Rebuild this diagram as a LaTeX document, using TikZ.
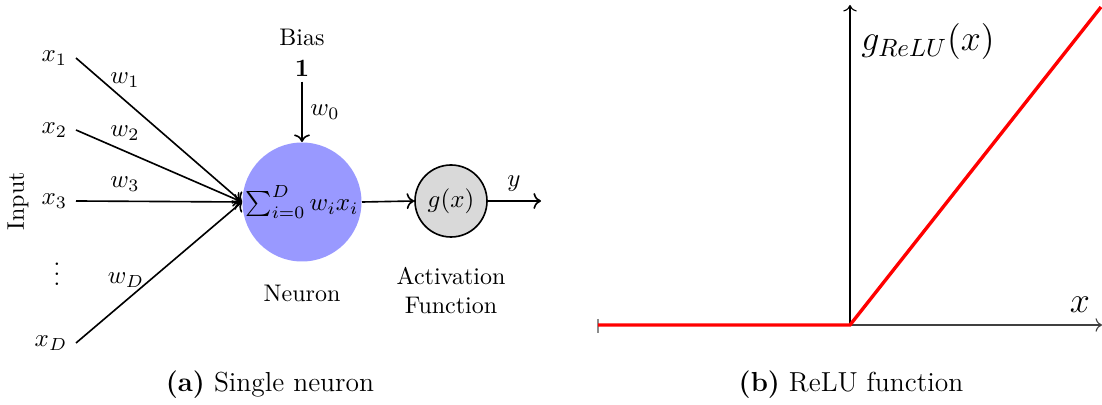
\documentclass[tikz,border=0pt]{standalone}
\usepackage{amsmath}
\usetikzlibrary{arrows.meta}
\begin{document}
\begin{tikzpicture}[x=0.4pt,y=-0.4pt,
  txt/.style={font=\fontsize{9.6}{11.6}\selectfont},
  captxt/.style={font=\fontsize{11}{13}\selectfont},
  plotlbl/.style={font=\fontsize{14}{16}\selectfont},
  inp/.style={txt,anchor=east},
  wire/.style={line width=0.65pt,->},
  neuron/.style={circle,fill=blue!40,minimum size=119*0.4pt,inner sep=0pt,txt},
  actbox/.style={circle,draw,line width=0.65pt,fill=black!15,minimum size=72*0.4pt,inner sep=0pt,txt},
  axis/.style={line width=0.45pt,->},
  relu/.style={red,line width=1.35pt}]
\useasboundingbox (0,0) rectangle (1102,405);

% ---- single neuron ----
\node[neuron] (n) at (302,202) {$\sum_{i=0}^{D} w_i x_i$};
\node[actbox] (g) at (451,201) {$g(x)$};

\node[inp] (x1) at (76,58) {$x_1$};
\node[inp] (x2) at (76,130) {$x_2$};
\node[inp] (x3) at (76,201) {$x_3$};
\node[inp] (xD) at (76,343) {$x_D$};
\node[txt] (dots) at (57,267) {$\vdots$};
\node[txt,rotate=90] (input) at (18,201) {Input};

\draw[wire] (x1.east) -- (n.west);
\draw[wire] (x2.east) -- (n.west);
\draw[wire] (x3.east) -- (n.west);
\draw[wire] (xD.east) -- (n.west);

\node[txt] (w1) at (125,80) {$w_1$};
\node[txt] (w2) at (125,133) {$w_2$};
\node[txt] (w3) at (125,184) {$w_3$};
\node[txt] (wD) at (126,280) {$w_D$};

\node[txt] (bias) at (302,37) {Bias};
\node[txt,inner sep=2pt] (one) at (302,68) {$\mathbf{1}$};
\draw[wire] (one.south) -- (n.north);
\node[txt] (w0) at (325,112) {$w_0$};

\draw[wire] (n.east) -- (g.west);
\coordinate (yend) at (541,201);
\draw[wire] (g.east) -- (yend);
\node[txt] (ylbl) at (514,184) {$y$};

\node[txt] (neulbl) at (302,293) {Neuron};
\node[txt,align=center] (actlbl) at (451,291) {Activation\\Function};

\node[captxt] (capa) at (270,385) {\textbf{(a)} Single neuron};

% ---- ReLU plot ----
\coordinate (O) at (850,325);
\coordinate (xl) at (598,325);
\coordinate (xr) at (1102,325);
\coordinate (yt) at (850,5);
\coordinate (rt) at (1101,7);
\draw[black!75,axis] (xl) -- (xr);
\draw[black!45,line width=0.5pt] (598,319) -- (598,333);
\draw[axis] (O) -- (yt);
\begin{scope}
\clip (590,0) rectangle (1102,340);
\draw[relu] (xl) -- (O) -- (rt);
\end{scope}
\node[plotlbl] (glbl) at (928,42) {$g_{ReLU}(x)$};
\node[plotlbl] (xlbl) at (1080,305) {$x$};

\node[captxt] (capb) at (851,385) {\textbf{(b)} ReLU function};
\end{tikzpicture}
\end{document}
